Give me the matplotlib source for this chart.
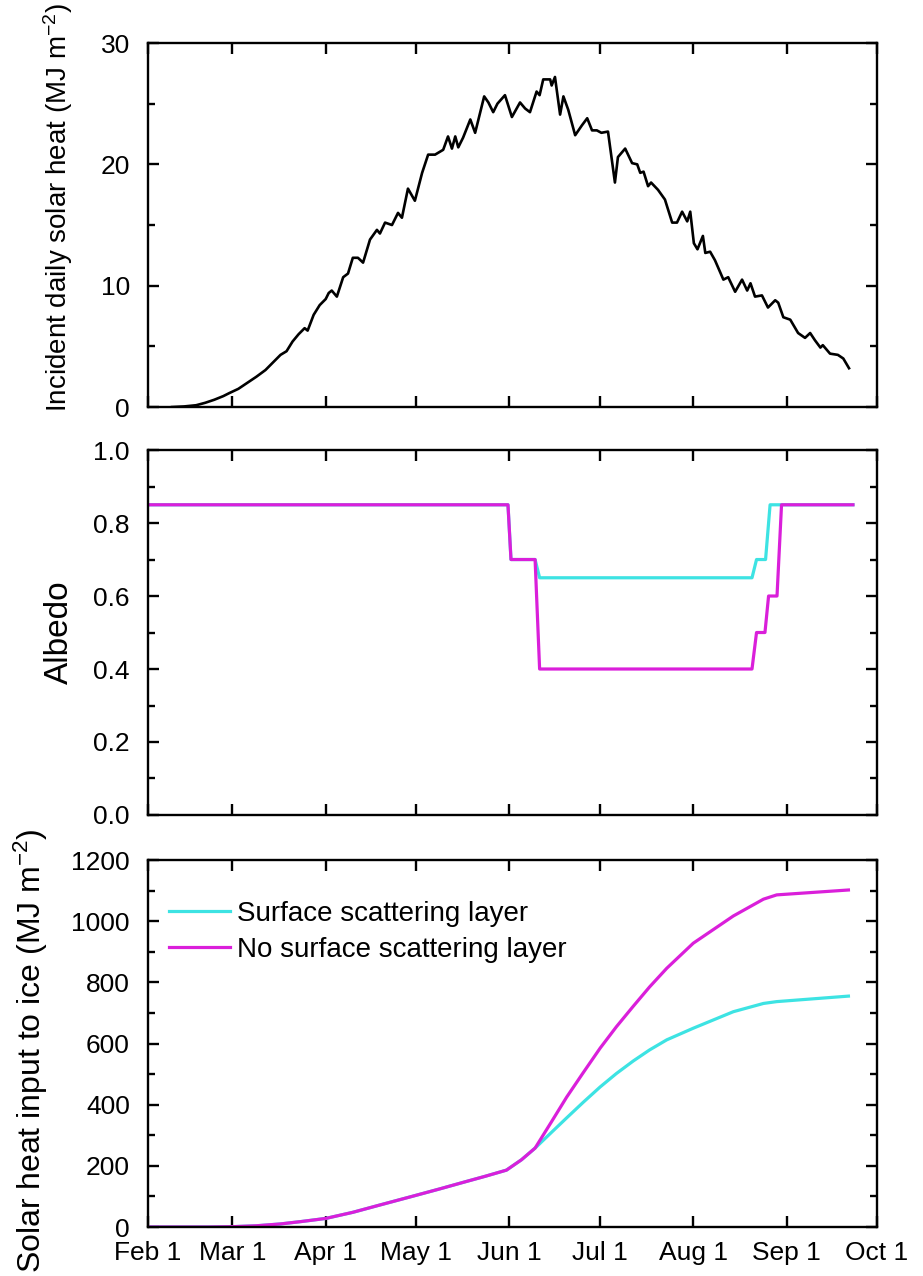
import matplotlib
matplotlib.use("Agg")
import matplotlib.pyplot as plt
from matplotlib.ticker import MultipleLocator
from matplotlib import font_manager

# ---------------- data (day offsets from Feb 1) ----------------
tick_days = [0, 28, 59, 89, 120, 150, 181, 212, 242]
tick_labels = ["Feb 1", "Mar 1", "Apr 1", "May 1", "Jun 1", "Jul 1", "Aug 1", "Sep 1", "Oct 1"]

solar_days = [8, 12, 16, 19, 22, 25, 27, 30, 33, 36, 39, 42, 44, 46, 48, 50, 52, 53, 55, 57,
              59, 60, 61, 62.7, 64.8, 66.4, 68, 69.7, 71.4, 73.7, 76, 77, 78.7, 81, 83, 84.3,
              86.3, 88.6, 91, 93, 95.3, 98, 99.6, 100.9, 102, 103, 104.6, 107, 108.6, 111.6,
              113, 114.6, 116, 118.5, 120.8, 123.5, 125.2, 126.8, 129, 130, 131.2, 133.5, 134,
              135.1, 136.8, 137.9, 139.5, 141.8, 144, 145.8, 147.4, 149, 150.5, 152.7, 155, 156,
              158.4, 160.7, 162.4, 163.4, 164.5, 166, 167, 169.3, 171.6, 174, 175.6, 177.3, 179,
              180, 181.2, 182.4, 184.2, 185, 186.6, 188.2, 191, 192.6, 194.9, 197.2, 198.9, 200,
              201.5, 203.8, 205.8, 208.2, 209.2, 210.9, 213.2, 215.8, 218.1, 219.8, 221.4, 223.2,
              224, 226.4, 229, 230.8, 232.7]
solar_vals = [0.0, 0.05, 0.15, 0.35, 0.6, 0.9, 1.15, 1.5, 2.0, 2.5, 3.05, 3.8, 4.3, 4.6, 5.4,
              6.0, 6.5, 6.3, 7.6, 8.4, 8.9, 9.4, 9.6, 9.1, 10.7, 11.0, 12.3, 12.3, 11.9, 13.8,
              14.6, 14.3, 15.2, 15.0, 16.0, 15.6, 18.0, 17.0, 19.3, 20.8, 20.8, 21.2, 22.3, 21.3,
              22.3, 21.4, 22.2, 23.7, 22.6, 25.6, 25.1, 24.3, 25.0, 25.7, 23.9, 25.1, 24.6, 24.3,
              26.0, 25.7, 27.0, 27.0, 26.5, 27.2, 24.1, 25.6, 24.5, 22.4, 23.2, 23.8, 22.8, 22.8,
              22.6, 22.7, 18.5, 20.6, 21.3, 20.1, 20.0, 19.3, 19.4, 18.2, 18.5, 17.9, 17.1, 15.2,
              15.2, 16.1, 15.3, 16.1, 13.5, 13.0, 14.1, 12.7, 12.8, 12.1, 10.5, 10.7, 9.5, 10.5,
              9.6, 10.2, 9.1, 9.2, 8.2, 8.8, 8.6, 7.4, 7.2, 6.1, 5.7, 6.1, 5.5, 4.9, 5.1, 4.4,
              4.3, 4.0, 3.2]

alb_ssl_days = [0, 119.5, 120.5, 128.5, 130, 200.5, 202, 205, 206.5, 234]
alb_ssl_vals = [0.85, 0.85, 0.70, 0.70, 0.65, 0.65, 0.70, 0.70, 0.85, 0.85]
alb_no_days = [0, 119.5, 120.5, 128.5, 130, 200.5, 202, 204.8, 206, 208.8, 210.3, 234]
alb_no_vals = [0.85, 0.85, 0.70, 0.70, 0.40, 0.40, 0.50, 0.50, 0.60, 0.60, 0.85, 0.85]

cum_common_days = [0, 20, 28, 36, 44, 51, 59, 68, 77, 88, 97, 105, 112, 119, 124, 128.5]
cum_common_vals = [0, 0, 1, 4, 10, 18, 28, 48, 72, 101, 125, 147, 166, 186, 220, 258]
cum_ssl_days = [134, 139, 144.5, 150.1, 155.5, 161.1, 166.5, 172.2, 181, 194.3, 204.3, 208.7, 232.5]
cum_ssl_vals = [310, 357, 408, 458, 502, 543, 579, 612, 650, 704, 731, 737, 755]
cum_no_days = [134, 139, 144.5, 150.1, 155.5, 161.1, 166.5, 172.2, 181, 194.3, 204.3, 208.7, 232.5]
cum_no_vals = [345, 425, 505, 585, 655, 722, 785, 846, 928, 1017, 1072, 1086, 1102]

# ---------------- style ----------------
names = {f.name for f in font_manager.fontManager.ttflist}
fam = "Liberation Sans" if "Liberation Sans" in names else "DejaVu Sans"
plt.rcParams["font.family"] = [fam, "DejaVu Sans"]
plt.rcParams["mathtext.fontset"] = "custom"
plt.rcParams["mathtext.rm"] = fam
plt.rcParams["mathtext.it"] = fam
plt.rcParams["mathtext.default"] = "regular"

CYAN = "#3DE3E3"
MAGENTA = "#DA1FDA"
TICK_FS = 19

fig = plt.figure(figsize=(9.23, 12.76), dpi=100)
L, W = 0.1603, 0.7899
ax1 = fig.add_axes([L, 0.681, W, 0.9663 - 0.681])
ax2 = fig.add_axes([L, 0.3613, W, 0.6473 - 0.3613])
ax3 = fig.add_axes([L, 0.0384, W, 0.326 - 0.0384])


def style(ax, showx):
    ax.set_xlim(tick_days[0], tick_days[-1])
    ax.set_xticks(tick_days)
    if showx:
        ax.set_xticklabels(tick_labels)
    else:
        ax.set_xticklabels([])
    ax.tick_params(which="both", direction="in", top=True, right=True,
                   labelsize=TICK_FS, width=1.7)
    ax.tick_params(axis="y", which="major", pad=13)
    ax.tick_params(axis="x", which="major", pad=10)
    ax.tick_params(which="major", length=8)
    ax.tick_params(which="minor", length=5)
    ax.tick_params(axis="x", which="minor", bottom=False, top=False)
    for s in ax.spines.values():
        s.set_linewidth(1.7)


# top
ax1.plot(solar_days, solar_vals, color="black", lw=1.9)
ax1.set_ylim(0, 30)
ax1.yaxis.set_major_locator(MultipleLocator(10))
ax1.yaxis.set_minor_locator(MultipleLocator(5))
style(ax1, False)
ax1.set_ylabel("Incident daily solar heat (MJ m$^{-2}$)", fontsize=20)
ax1.yaxis.set_label_coords(-0.100, 0.548)

# middle
ax2.plot(alb_ssl_days, alb_ssl_vals, color=CYAN, lw=2.3)
ax2.plot(alb_no_days, alb_no_vals, color=MAGENTA, lw=2.3)
ax2.set_ylim(0, 1.0)
ax2.yaxis.set_minor_locator(MultipleLocator(0.1))
ax2.set_yticks([0, 0.2, 0.4, 0.6, 0.8, 1.0])
ax2.set_yticklabels(["0.0", "0.2", "0.4", "0.6", "0.8", "1.0"])
style(ax2, False)
ax2.set_ylabel("Albedo", fontsize=24)
ax2.yaxis.set_label_coords(-0.100, 0.5)

# bottom
ax3.plot(cum_common_days + cum_ssl_days, cum_common_vals + cum_ssl_vals,
         color=CYAN, lw=2.3, label="Surface scattering layer")
ax3.plot(cum_common_days + cum_no_days, cum_common_vals + cum_no_vals,
         color=MAGENTA, lw=2.3, label="No surface scattering layer")
ax3.set_ylim(0, 1200)
ax3.yaxis.set_major_locator(MultipleLocator(200))
ax3.yaxis.set_minor_locator(MultipleLocator(100))
style(ax3, True)
ax3.set_ylabel("Solar heat input to ice (MJ m$^{-2}$)", fontsize=23)
ax3.yaxis.set_label_coords(-0.134, 0.48)
ax3.legend(loc="upper left", bbox_to_anchor=(0.029, 0.888), frameon=False,
           fontsize=20, handlelength=2.2, handletextpad=0.25,
           labelspacing=0.35, borderpad=0, borderaxespad=0)

fig.savefig("out.png", dpi=100)
